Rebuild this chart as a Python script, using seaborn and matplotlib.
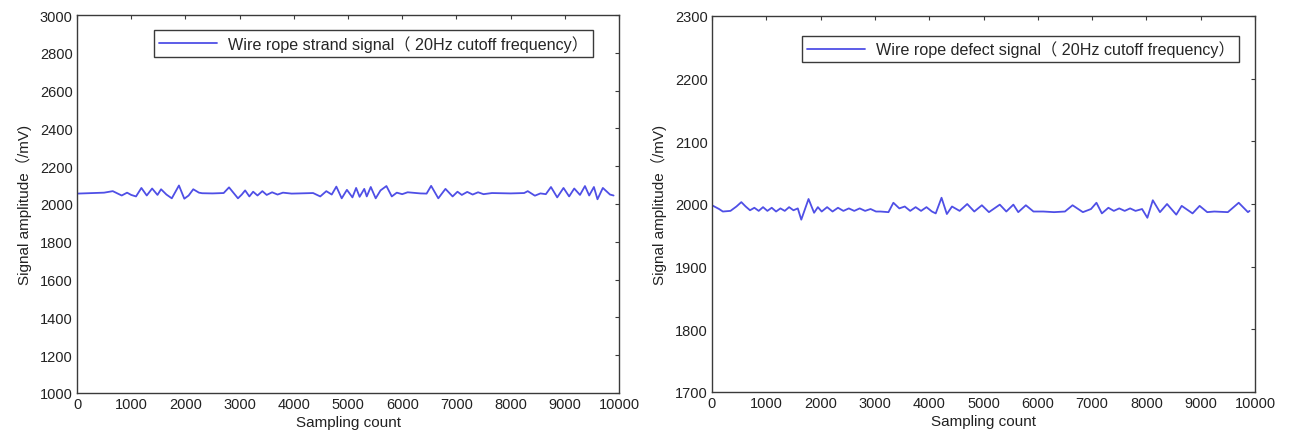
import matplotlib
matplotlib.use("Agg")
import matplotlib.pyplot as plt
import seaborn as sns
import pandas as pd

# ---- data ----
strand_x = [0, 300, 500, 660, 825, 924, 1000, 1089, 1188, 1287, 1386, 1485, 1551, 1650,
            1749, 1881, 1980, 2060, 2145, 2250, 2310, 2500, 2706, 2805, 2970, 3040, 3102,
            3180, 3250, 3330, 3420, 3500, 3600, 3700, 3800, 3960, 4100, 4356, 4488, 4600,
            4700, 4785, 4884, 4980, 5082, 5150, 5214, 5300, 5346, 5420, 5511, 5600, 5709,
            5808, 5900, 6000, 6100, 6336, 6450, 6534, 6666, 6798, 6930, 7020, 7100, 7200,
            7300, 7400, 7500, 7656, 8000, 8250, 8316, 8448, 8550, 8650, 8745, 8860, 8976,
            9080, 9174, 9280, 9372, 9450, 9537, 9603, 9702, 9834, 9900]
strand_y = [2055, 2058, 2060, 2068, 2045, 2060, 2048, 2040, 2085, 2045, 2082, 2048, 2078, 2050,
            2030, 2098, 2028, 2045, 2078, 2060, 2057, 2056, 2058, 2088, 2030, 2050, 2072,
            2040, 2065, 2045, 2068, 2048, 2062, 2050, 2060, 2055, 2056, 2058, 2040, 2068,
            2050, 2092, 2030, 2075, 2035, 2085, 2038, 2080, 2040, 2090, 2030, 2072, 2095,
            2040, 2060, 2052, 2062, 2056, 2055, 2096, 2030, 2080, 2040, 2065, 2048, 2064,
            2050, 2062, 2052, 2058, 2056, 2058, 2068, 2044, 2056, 2052, 2090, 2035, 2085,
            2040, 2082, 2048, 2095, 2045, 2090, 2025, 2085, 2050, 2045]

defect_x = [0, 130, 200, 340, 450, 540, 620, 700, 780, 860, 940, 1020, 1100, 1180, 1260,
            1340, 1420, 1500, 1580, 1644, 1778, 1880, 1950, 2020, 2120, 2220, 2320, 2420,
            2520, 2620, 2720, 2820, 2920, 3020, 3100, 3250, 3340, 3450, 3550, 3650, 3750,
            3850, 3950, 4050, 4120, 4227, 4325, 4420, 4560, 4700, 4830, 4970, 5100, 5300,
            5420, 5550, 5640, 5780, 5920, 6100, 6300, 6500, 6640, 6830, 6980, 7080, 7180,
            7300, 7400, 7500, 7600, 7700, 7800, 7920, 8018, 8118, 8250, 8380, 8550, 8650,
            8850, 8980, 9120, 9250, 9500, 9700, 9870, 9900]
defect_y = [1998, 1992, 1988, 1989, 1996, 2003, 1996, 1990, 1994, 1989, 1995, 1989, 1994, 1988,
            1993, 1989, 1995, 1990, 1993, 1975, 2008, 1986, 1995, 1988, 1995, 1988, 1994, 1989,
            1993, 1989, 1993, 1989, 1992, 1988, 1988, 1987, 2002, 1993, 1996, 1989, 1995,
            1989, 1995, 1988, 1985, 2010, 1984, 1996, 1989, 2000, 1988, 1998, 1987, 1999,
            1988, 1999, 1987, 1998, 1988, 1988, 1987, 1988, 1998, 1987, 1992, 2002, 1985,
            1994, 1989, 1993, 1989, 1993, 1989, 1992, 1978, 2006, 1987, 2000, 1983, 1997,
            1985, 1997, 1987, 1988, 1987, 2002, 1987, 1989]

strand_label = "Wire rope strand signal（ 20Hz cutoff frequency）"
defect_label = "Wire rope defect signal（ 20Hz cutoff frequency）"
x_label = "Sampling count"
y_label = "Signal amplitude（/mV)"
x_ticks = [0, 1000, 2000, 3000, 4000, 5000, 6000, 7000, 8000, 9000, 10000]
left_yticks = [1000, 1200, 1400, 1600, 1800, 2000, 2200, 2400, 2600, 2800, 3000]
right_yticks = [1700, 1800, 1900, 2000, 2100, 2200, 2300]

sns.set_style("white")
plt.rcParams["font.family"] = ["Liberation Sans", "Noto Sans CJK SC", "DejaVu Sans"]

line_color = "#4f4fe6"
spine_color = "#3a3a3a"

fig = plt.figure(figsize=(12.89, 4.35), dpi=100)
ax1 = fig.add_axes([77/1289, 41/435, 542/1289, 378/435])
ax2 = fig.add_axes([712/1289, 42/435, 543/1289, 376/435])

df1 = pd.DataFrame({"x": strand_x, "y": strand_y})
df2 = pd.DataFrame({"x": defect_x, "y": defect_y})

sns.lineplot(data=df1, x="x", y="y", ax=ax1, color=line_color, lw=1.3,
             label=strand_label, estimator=None, sort=False)
sns.lineplot(data=df2, x="x", y="y", ax=ax2, color=line_color, lw=1.3,
             label=defect_label, estimator=None, sort=False)

for ax, yt, anchor in [(ax1, left_yticks, (0.966, 0.981)), (ax2, right_yticks, (0.986, 0.969))]:
    ax.set_xlim(0, 10000)
    ax.set_ylim(yt[0], yt[-1])
    ax.set_xticks(x_ticks)
    ax.set_yticks(yt)
    ax.set_xlabel(x_label, fontsize=11, color="#222222", labelpad=3)
    ax.set_ylabel(y_label, fontsize=11, color="#222222", labelpad=6)
    ax.tick_params(axis="both", which="both", direction="in", length=3, width=0.8,
                   labelsize=10.5, labelcolor="#222222", colors=spine_color,
                   top=True, right=True, pad=3)
    for lab in ax.get_xticklabels() + ax.get_yticklabels():
        lab.set_color("#222222")
    for s in ax.spines.values():
        s.set_visible(True)
        s.set_color(spine_color)
        s.set_linewidth(1.0)
    leg = ax.legend(loc="upper right", bbox_to_anchor=anchor, fontsize=11.6,
                    frameon=True, fancybox=False, framealpha=1, edgecolor=spine_color,
                    handlelength=3.6, borderpad=0.3, handletextpad=0.7)
    leg.get_frame().set_linewidth(1.0)

fig.savefig("out.png", dpi=100, facecolor="white")
